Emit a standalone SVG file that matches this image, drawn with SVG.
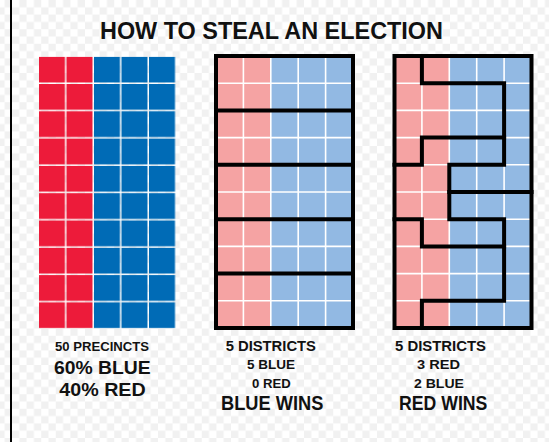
<svg xmlns="http://www.w3.org/2000/svg" width="549" height="442" viewBox="0 0 549 442">
  <style>
    .t { font-family: "Liberation Sans", Arial, sans-serif; font-weight: 700; fill: #111; text-anchor: middle; }
    .wl { stroke: #ffffff; stroke-width: 1.6; fill: none; }
    .bl { stroke: #000000; stroke-width: 4; fill: none; stroke-linecap: square; stroke-linejoin: miter; }
  </style>
  <defs>
    <pattern id="checker" patternUnits="userSpaceOnUse" x="12" y="0" width="14.6" height="14.6">
      <rect width="14.6" height="14.6" fill="#ffffff"/>
      <rect x="7.3" y="0" width="7.3" height="7.3" fill="#f1f1f1"/>
      <rect x="0" y="7.3" width="7.3" height="7.3" fill="#f1f1f1"/>
    </pattern>
    <pattern id="redCell" patternUnits="userSpaceOnUse" x="39" y="56.7" width="27.5" height="27.3">
      <rect width="26" height="25.8" fill="#ED1B3A"/>
    </pattern>
    <pattern id="blueCell" patternUnits="userSpaceOnUse" x="39" y="56.7" width="27.5" height="27.3">
      <rect width="26" height="25.8" fill="#006BB6"/>
    </pattern>
  </defs>

  <rect width="549" height="442" fill="url(#checker)"/>
  <line x1="11" y1="0" x2="11" y2="442" stroke="#000" stroke-width="2"/>

  <text class="t" x="271.5" y="39.3" font-size="23.2" textLength="343" lengthAdjust="spacingAndGlyphs">HOW TO STEAL AN ELECTION</text>

  <!-- Panel 1: 50 precincts -->
  <g id="precincts">
    <rect x="39" y="56.7" width="54" height="271.6" fill="url(#redCell)"/>
    <rect x="94" y="56.7" width="82" height="271.6" fill="url(#blueCell)"/>
  </g>

  <!-- Panel 2: horizontal districts -->
  <g id="districts-fair">
    <rect x="216" y="56" width="54.8" height="272" fill="#F5A3A3"/>
    <rect x="270.8" y="56" width="82.2" height="272" fill="#92B9E3"/>
    <path class="wl" d="M243.4,56V328M270.8,56V328M298.2,56V328M325.6,56V328M216,83.2H353M216,137.6H353M216,192H353M216,246.4H353M216,300.8H353"/>
    <path class="bl" d="M216,110.4H353M216,164.8H353M216,219.2H353M216,273.6H353"/>
    <rect class="bl" x="216" y="56" width="137" height="272"/>
  </g>

  <!-- Panel 3: gerrymandered districts -->
  <g id="districts-gerrymander">
    <rect x="394.5" y="56" width="54.8" height="272" fill="#F5A3A3"/>
    <rect x="449.3" y="56" width="82.2" height="272" fill="#92B9E3"/>
    <path class="wl" d="M421.9,56V328M449.3,56V328M476.7,56V328M504.1,56V328M394.5,83.2H531.5M394.5,110.4H531.5M394.5,137.6H531.5M394.5,164.8H531.5M394.5,192H531.5M394.5,219.2H531.5M394.5,246.4H531.5M394.5,273.6H531.5M394.5,300.8H531.5"/>
    <path class="bl" d="M421.9,56V83.2H504.1V164.8H449.3V219.2H504.1V300.8H421.9V328"/>
    <path class="bl" d="M504.1,137.6H421.9V164.8H394.5"/>
    <path class="bl" d="M449.3,192H531.5"/>
    <path class="bl" d="M394.5,219.2H421.9V246.4H504.1"/>
    <rect class="bl" x="394.5" y="56" width="137" height="272"/>
  </g>

  <!-- Labels -->
  <g id="label-1">
    <text class="t" x="102" y="350.7" font-size="12.6" textLength="94" lengthAdjust="spacingAndGlyphs">50 PRECINCTS</text>
    <text class="t" x="102.3" y="374" font-size="18.6" textLength="96.7" lengthAdjust="spacingAndGlyphs">60% BLUE</text>
    <text class="t" x="102.5" y="395.7" font-size="18.6" textLength="86.4" lengthAdjust="spacingAndGlyphs">40% RED</text>
  </g>
  <g id="label-2">
    <text class="t" x="270.8" y="350.7" font-size="15" textLength="90.3" lengthAdjust="spacingAndGlyphs">5 DISTRICTS</text>
    <text class="t" x="271" y="369" font-size="12.6" textLength="48" lengthAdjust="spacingAndGlyphs">5 BLUE</text>
    <text class="t" x="271.3" y="387.7" font-size="12.6" textLength="38.7" lengthAdjust="spacingAndGlyphs">0 RED</text>
    <text class="t" x="272.2" y="410" font-size="19.6" textLength="102.3" lengthAdjust="spacingAndGlyphs">BLUE WINS</text>
  </g>
  <g id="label-3">
    <text class="t" x="440.5" y="350.7" font-size="15" textLength="91" lengthAdjust="spacingAndGlyphs">5 DISTRICTS</text>
    <text class="t" x="438.5" y="369" font-size="12.6" textLength="43" lengthAdjust="spacingAndGlyphs">3 RED</text>
    <text class="t" x="439" y="387.7" font-size="12.6" textLength="50" lengthAdjust="spacingAndGlyphs">2 BLUE</text>
    <text class="t" x="443.2" y="410" font-size="19.6" textLength="88.3" lengthAdjust="spacingAndGlyphs">RED WINS</text>
  </g>
</svg>
